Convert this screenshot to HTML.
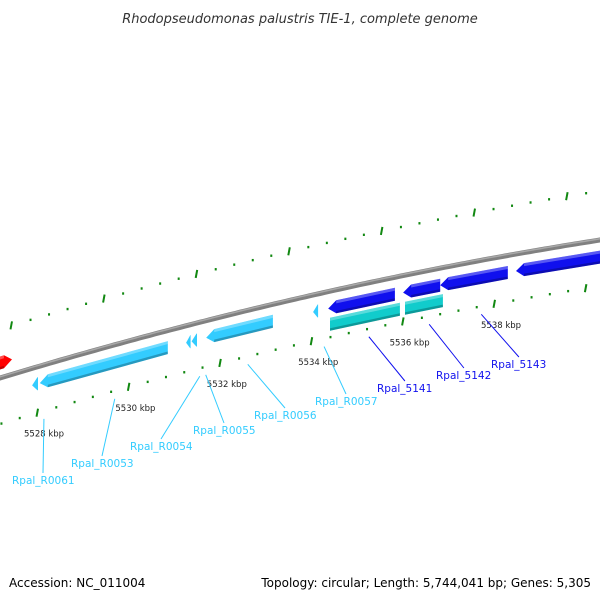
<!DOCTYPE html>
<html><head><meta charset="utf-8"><style>
body{margin:0;background:#fff;}
svg{display:block;font-family:"DejaVu Sans","Liberation Sans",sans-serif;}
</style></head><body>
<svg id="c" width="600" height="600" viewBox="0 0 600 600">
<text x="300" y="23" text-anchor="middle" font-size="13" font-style="italic" fill="#333">Rhodopseudomonas palustris TIE-1, complete genome</text>
<text x="9" y="587" font-size="12" fill="#000">Accession: NC_011004</text>
<text x="591" y="587" font-size="12" fill="#000" text-anchor="end">Topology: circular; Length: 5,744,041 bp; Genes: 5,305</text>
<g id="g"></g>
</svg>
<script>
const majorTicks=[5528,5530,5532,5534,5536,5538];
const geneStarts=[5527.0,5527.87,5528.04,5531.24,5531.36,5531.68,5534.02,5534.35,5535.99,5536.80,5538.46,5534.39,5536.03];
const geneEnds=[5527.43,5528.0,5530.84,5531.34,5531.48,5533.14,5534.13,5535.81,5536.80,5538.28,5540.6,5535.92,5536.86];
const geneStrand=[1,-1,-1,-1,-1,-1,-1,-1,-1,-1,-1,0,0];
const geneRow=[-1,1,1,1,1,1,1,1,1,1,1,2,2];
const geneColor=["#ff0000","#33ccff","#33ccff","#33ccff","#33ccff","#33ccff","#33ccff","#1010ee","#1010ee","#1010ee","#1010ee","#11cccc","#11cccc"];
const geneNames=["","Rpal_R0061","Rpal_R0053","Rpal_R0054","Rpal_R0055","Rpal_R0056","Rpal_R0057","Rpal_5141","Rpal_5142","Rpal_5143","","",""];
const anchorK=[0,5528.13,5529.68,5531.54,5531.67,5532.59,5534.26,5535.24,5536.56,5537.70,0,0,0];
const labelX=[0,12,71,130,193,254,315,377,436,491,0,0,0];
const labelY=[0,484,467,450,434,419,405,392,379,368,0,0,0];

const NS="http://www.w3.org/2000/svg";
const g=document.getElementById('g');
function xk(k){return 38+(k-5528)*45.7;}
function xo(k){return 12+(k-5528)*46.3;}
function bb(x){return 378-0.3033*x+1.222e-4*x*x;}
function el(t,a){const e=document.createElementNS(NS,t);for(const k in a)e.setAttribute(k,a[k]);g.appendChild(e);return e;}
let d="";for(let x=-5;x<=605;x+=5){d+=(x==-5?"M":"L")+x+","+bb(x).toFixed(1);}
const bp=el('path',{d:d,stroke:'#808080','stroke-width':5,fill:'none'});


const bh=el('path',{d:d,stroke:'#a8a8a8','stroke-width':1.5,fill:'none',transform:'translate(0,-1.2)'});


for(let k=5524.4;k<=5542;k+=0.4){
 const kk=Math.round(k*10)/10;
 const major=Math.abs(kk/2-Math.round(kk/2))<0.01;
 [[xk(kk),46],[xo(kk),-49]].forEach(([x,off])=>{
  if(x<-5||x>605)return;
  const y=bb(x)+off;
  const t=el('line',{x1:x,x2:x+(major?-1.5:0),y1:y-(major?4:1.2),y2:y+(major?4:1.2),stroke:'#118811','stroke-width':major?2:2});
  
  
 });
}
majorTicks.forEach(k=>{const x=xk(k);const y=bb(x)+46;
 const t=el('text',{x:x-14,y:y+24,'font-size':8.5,fill:'#222'});t.textContent=k+" kbp";
 
 });
const rowOff={'-1':-15,'1':17,'2':33};
geneStarts.forEach((s,i)=>{
 const x1=xk(s),x2=xk(geneEnds[i]);const off=rowOff[geneRow[i]];const h=6.5;
 const c=x=>bb(x)+off;const dir=geneStrand[i];
 const ah=Math.min(8,(x2-x1)*0.9);
 let pts=[];
 if(dir===-1){pts=[[x1,c(x1)],[x1+ah,c(x1+ah)-h],[x2,c(x2)-h],[x2,c(x2)+h],[x1+ah,c(x1+ah)+h]];}
 else if(dir===1){pts=[[x1,c(x1)-h],[x2-ah,c(x2-ah)-h],[x2,c(x2)],[x2-ah,c(x2-ah)+h],[x1,c(x1)+h]];}
 else {pts=[[x1,c(x1)-h],[x2,c(x2)-h],[x2,c(x2)+h],[x1,c(x1)+h]];}
 const p=el('polygon',{points:pts.map(q=>q.map(v=>v.toFixed(1)).join(',')).join(' '),fill:geneColor[i]});
 
 
 const sx1=dir===-1?x1+ah:x1, sx2=dir===1?x2-ah:x2;
 if(sx2-sx1>4){const s1=el('polygon',{points:`${sx1},${c(sx1)-h} ${sx2},${c(sx2)-h} ${sx2},${c(sx2)-h+3} ${sx1},${c(sx1)-h+3}`,fill:'#fff','fill-opacity':0.3});
 
 
 const s2=el('polygon',{points:`${sx1},${c(sx1)+h-2.5} ${sx2},${c(sx2)+h-2.5} ${sx2},${c(sx2)+h} ${sx1},${c(sx1)+h}`,fill:'#000','fill-opacity':0.25});
 
 }
 if(geneNames[i]){
  const col=geneColor[i];const lx=labelX[i],ly=labelY[i];
  const tw=geneNames[i].length*6.2;
  const ax=xk(anchorK[i]);const ay=bb(ax)+54;
  const l=el('line',{x1:ax,y1:ay,x2:lx+tw/2,y2:ly-11,stroke:col,'stroke-width':1});
  
  
  const t=el('text',{x:lx,y:ly,'font-size':10.5,fill:col});t.textContent=geneNames[i];
  
  
 }
});
</script>
</body></html>
